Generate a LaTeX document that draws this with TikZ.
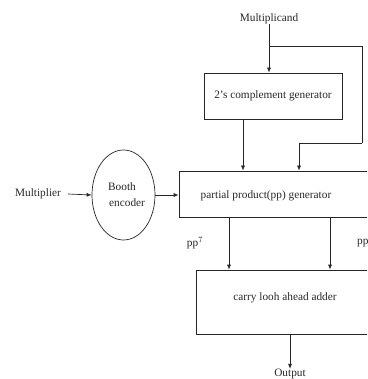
\documentclass[tikz,border=0pt]{standalone}
\usepackage{fontspec}
\setmainfont{Liberation Serif}
\usepackage{tikz}
\usetikzlibrary{arrows.meta,positioning,shapes.geometric}

\tikzset{
  blk/.style={draw=black!85, line width=0.7pt, rectangle},
  lbl/.style={inner sep=0pt, font=\fontsize{11.3}{13}\selectfont, text=black!85},
  arr/.style={draw=black!85, line width=0.7pt, -{Latex[length=5pt,width=4pt]}},
  wire/.style={draw=black!85, line width=0.7pt}
}

\begin{document}
\begin{tikzpicture}[x=1pt, y=-1pt]
\useasboundingbox (0,0) rectangle (367,379);
\clip (0,0) rectangle (367,379);

% inputs
\node[lbl] (mcand) at (269,19) {Multiplicand};
\node[lbl] (mplier) at (38,194) {Multiplier};

% blocks
\node[blk, minimum width=138pt, minimum height=46pt] (comp) at (273,96) {};
\node[lbl] (comptxt) at (273,96) {2's complement generator};

\node[draw=black!85, line width=0.7pt, ellipse, minimum width=63pt, minimum height=90pt,
      inner sep=0pt] (booth) at (123.5,195) {};
\node[lbl, anchor=base west] (boothtxt) at (108,190) {Booth};
\node[lbl, anchor=base west] (enctxt) at (109,206) {encoder};

\node[blk, minimum width=231pt, minimum height=46pt] (pp) at (294.5,194) {};
\node[lbl] (pptxt) at (266,196) {partial product(pp) generator};

\node[blk, minimum width=214pt, minimum height=64pt] (cla) at (303,302) {};
\node[lbl] (clatxt) at (285,298) {carry looh ahead adder};

\node[lbl] (out) at (290,374) {Output};

% pp labels
\node[lbl] (pp7) at (195,243) {pp$^{7}$};
\node[lbl, anchor=west] (ppr) at (357,243) {pp};

% helper points
\coordinate (br) at (269,46);
\coordinate (rt) at (362,143);
\coordinate (in2) at (299,0);
\coordinate (c7) at (229,0);
\coordinate (c0) at (330,0);
\coordinate (cx) at (290,0);
\coordinate (mx) at (68,194);

% multiplicand paths
\draw[arr] (mcand.south) -- (mcand.south |- comp.north);
\draw[wire] (br) -| (rt);
\draw[arr] (rt) -| (in2 |- pp.north);
\draw[arr] (243,0 |- comp.south) -- (243,0 |- pp.north);

% multiplier paths
\draw[arr] (mx) -- (booth.west);
\draw[arr] (booth.east) -- (booth.east -| pp.west);

% partial products to adder
\draw[arr] (c7 |- pp.south) -- (c7 |- cla.north);
\draw[arr] (c0 |- pp.south) -- (c0 |- cla.north);

% output
\draw[arr] (cx |- cla.south) -- (out.north);
\end{tikzpicture}
\end{document}
